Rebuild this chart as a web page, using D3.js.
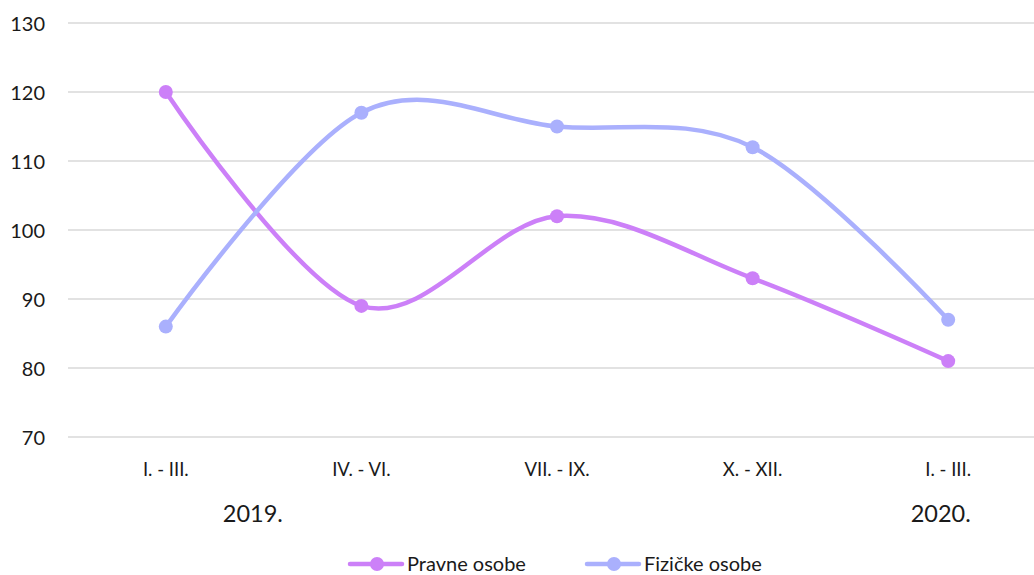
<!DOCTYPE html>
<html><head><meta charset="utf-8">
<script src="https://cdn.jsdelivr.net/npm/d3@7"></script>
<style>body{margin:0;background:#fff}svg{display:block}text{font-family:Lato,"Open Sans",sans-serif;fill:#1a1a1a}</style>
</head><body>
<svg id="c" width="1034" height="575"></svg>
<script>
const categories = ["I. - III.", "IV. - VI.", "VII. - IX.", "X. - XII.", "I. - III."];
const years = ["2019.", "2020."];
const pravne = [120, 89, 102, 93, 81];
const fizicke = [86, 117, 115, 112, 87];
const yTicks = [70, 80, 90, 100, 110, 120, 130];
const seriesNames = ["Pravne osobe", "Fizičke osobe"];
const colors = ["#cc80f8", "#aab0fd"];

(function () {
const svg = d3.select("#c");
const mLeft = 68, mRight = 1046, mTop = 23, mBottom = 437;
const x = d3.scaleBand().domain(d3.range(categories.length)).range([mLeft, mRight]);
const y = d3.scaleLinear().domain([70, 130]).range([mBottom, mTop]);
const cx = i => x(i) + x.bandwidth() / 2;

svg.append("g").selectAll("line").data(yTicks).join("line")
  .attr("x1", mLeft).attr("x2", 1034)
  .attr("y1", d => y(d)).attr("y2", d => y(d))
  .attr("stroke", "#d9d9d9").attr("stroke-width", 1.5);

svg.append("g").selectAll("text").data(yTicks).join("text")
  .attr("x", 45).attr("y", d => y(d) + 0.5).attr("dy", "0.35em")
  .attr("text-anchor", "end").attr("font-size", 20).text(d => d);

svg.append("g").selectAll("text").data(categories).join("text")
  .attr("x", (d, i) => cx(i)).attr("y", 469.5).attr("dy", "0.35em")
  .attr("text-anchor", "middle").attr("font-size", 18.5).text(d => d);

svg.append("text").attr("x", cx(0) + 87).attr("y", 513.5).attr("dy", "0.35em")
  .attr("text-anchor", "middle").attr("font-size", 23.5).text(years[0]);
svg.append("text").attr("x", cx(4) - 7.5).attr("y", 513.5).attr("dy", "0.35em")
  .attr("text-anchor", "middle").attr("font-size", 23.5).text(years[1]);

const line = d3.line().x((d, i) => cx(i)).y(d => y(d)).curve(d3.curveCardinal.tension(0));
[pravne, fizicke].forEach((s, k) => {
  const g = svg.append("g");
  g.append("path").attr("d", line(s)).attr("fill", "none")
    .attr("stroke", colors[k]).attr("stroke-width", 4.5).attr("stroke-linecap", "round");
  g.selectAll("circle").data(s).join("circle")
    .attr("cx", (d, i) => cx(i)).attr("cy", d => y(d)).attr("r", 7).attr("fill", colors[k]);
});

const legX = [348, 585];
seriesNames.forEach((n, k) => {
  const g = svg.append("g").attr("transform", `translate(${legX[k]},564)`);
  g.append("line").attr("x1", 2).attr("x2", 54).attr("stroke", colors[k]).attr("stroke-width", 4.5).attr("stroke-linecap", "round");
  g.append("circle").attr("cx", 29).attr("r", 7).attr("fill", colors[k]);
  g.append("text").attr("x", 59).attr("dy", "0.35em").attr("font-size", 20).text(n);
});
})();
</script>
</body></html>
